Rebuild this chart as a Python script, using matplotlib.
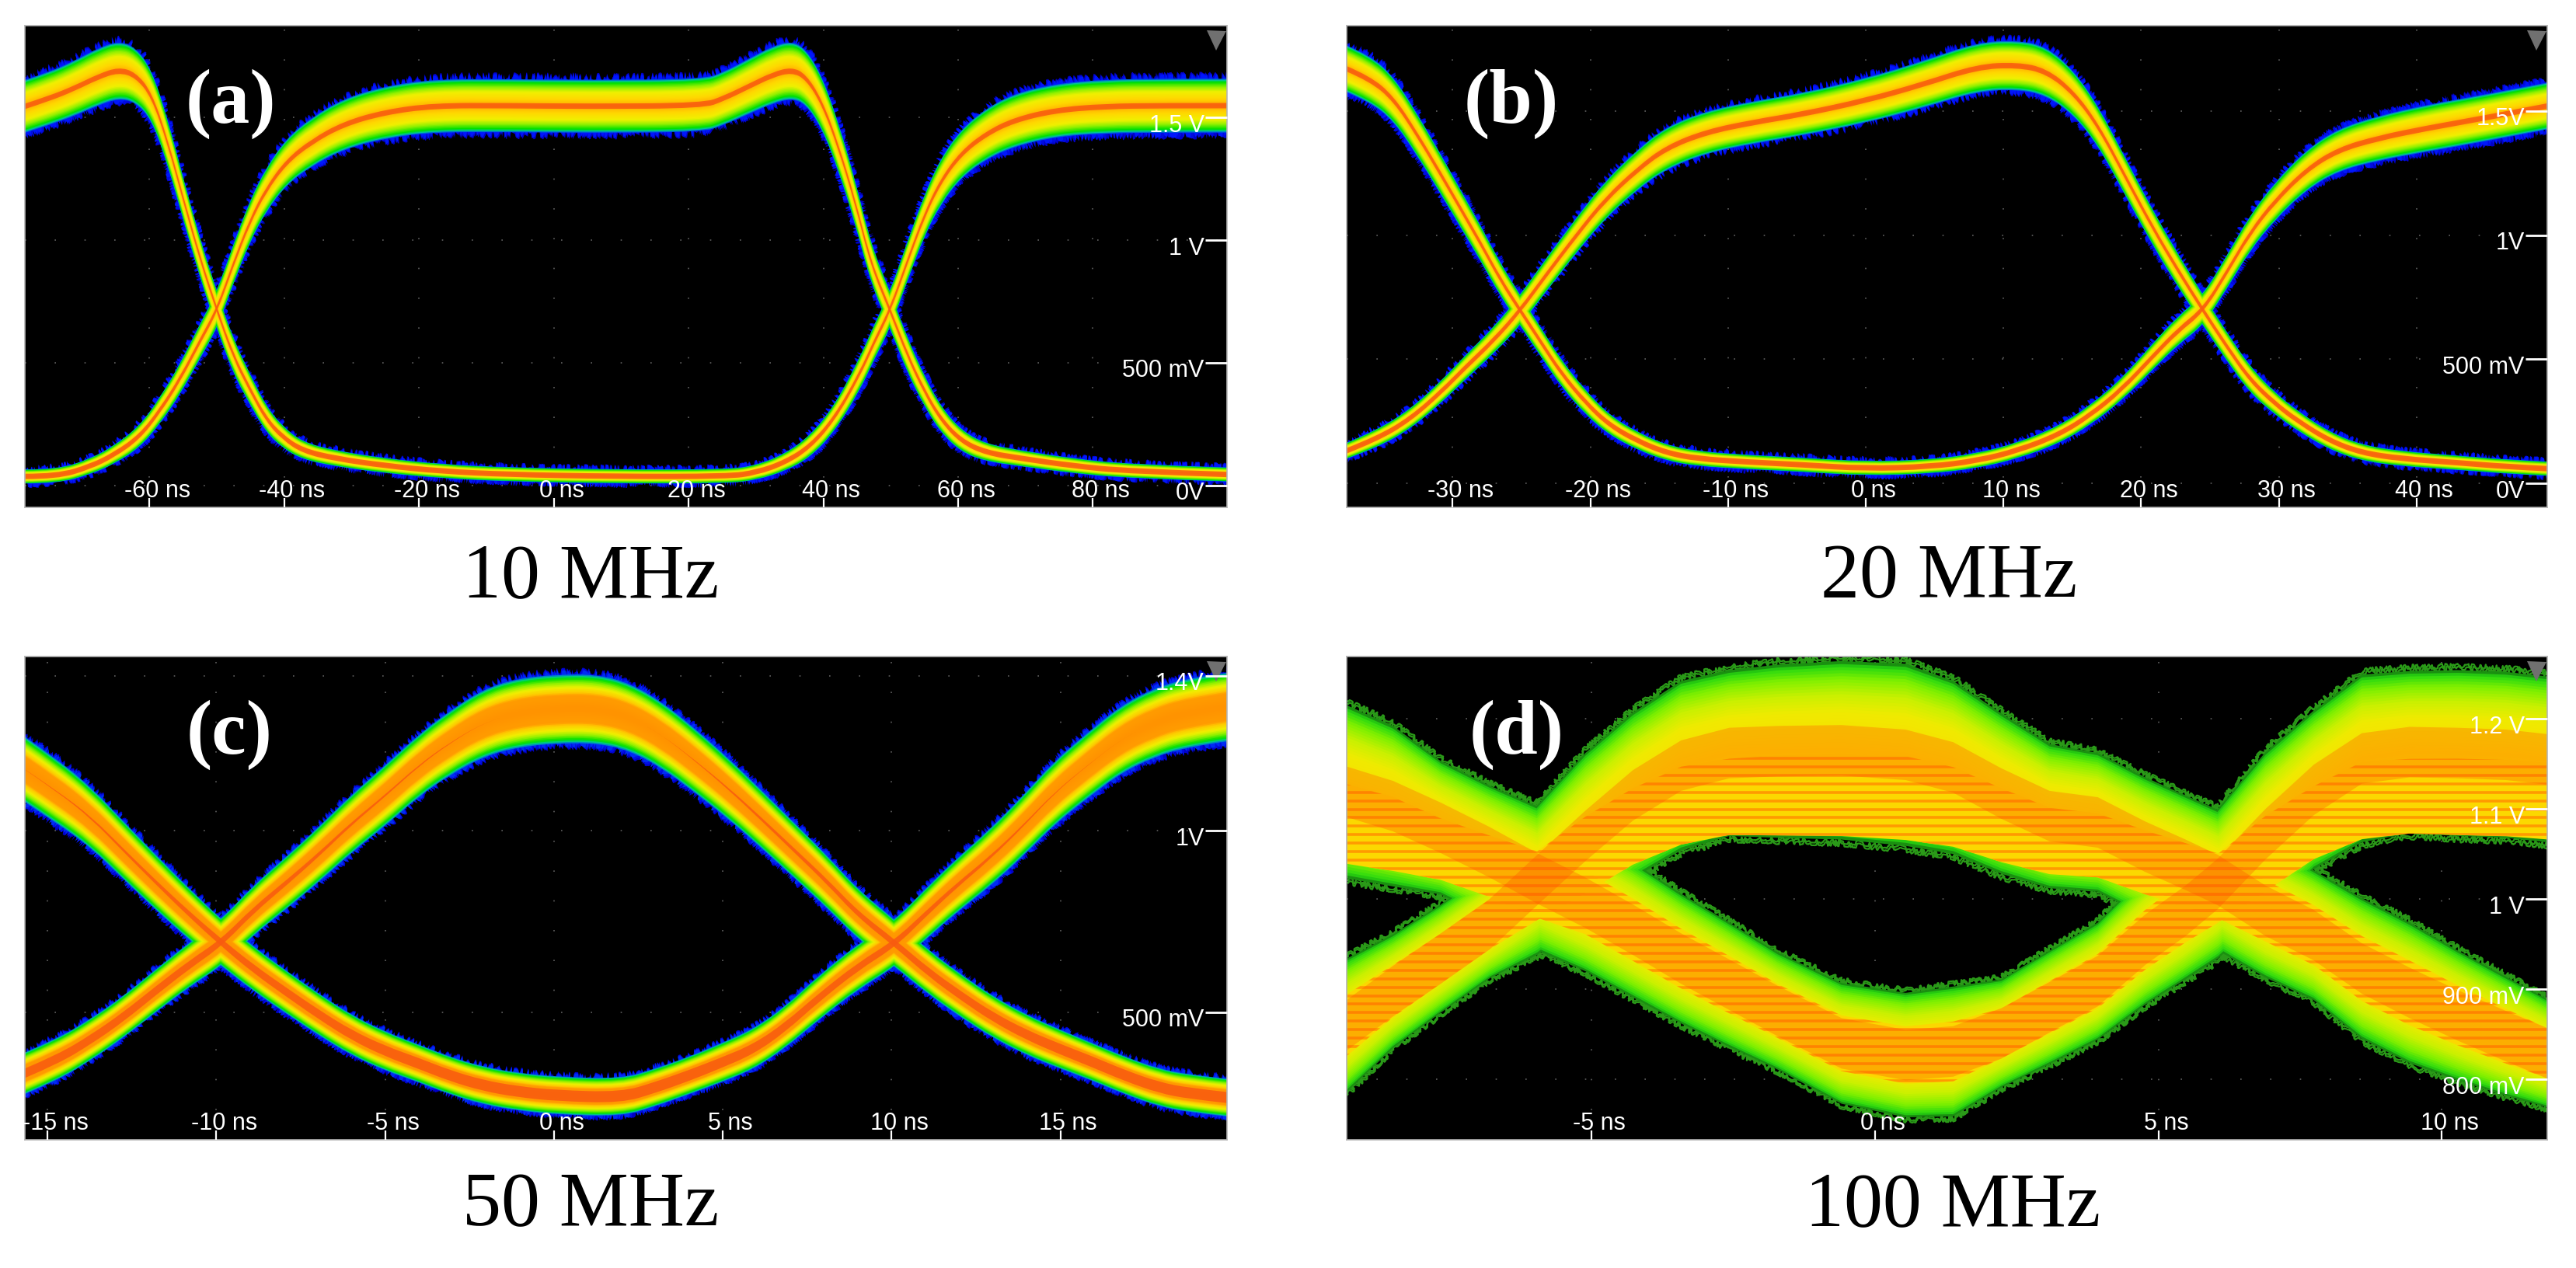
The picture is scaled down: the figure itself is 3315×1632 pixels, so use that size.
import numpy as np
import matplotlib
matplotlib.use("Agg")
import matplotlib.pyplot as plt
from matplotlib.colors import LinearSegmentedColormap
from matplotlib.patches import PathPatch
from matplotlib.path import Path
from matplotlib.transforms import ScaledTranslation

W, H = 3315, 1633
SANS = ["Liberation Sans", "DejaVu Sans"]
SERIF = ["Liberation Serif", "DejaVu Serif"]

# panel (a) 10 MHz
a_fall_t = [-78.5, -74.9, -71.2, -67.6, -64.6, -62.1, -59.7, -57.3, -54.9, -52.4, -50, -47.6, -45.1, -42.7, -40.3, -37.3, -32.4, -25.1, -16.6, -6.9, 8.9, 25.8, 30.1, 34.3, 38, 41.6, 45.3, 47.7, 49.9, 52.5, 55, 57.4, 60.4, 64.1, 68.3, 74.4, 81.7, 90.2, 99.9]
a_fall_v = [1.545, 1.577, 1.618, 1.666, 1.694, 1.674, 1.594, 1.40, 1.158, 0.916, 0.715, 0.529, 0.392, 0.271, 0.198, 0.142, 0.110, 0.081, 0.058, 0.045, 0.037, 0.037, 0.053, 0.094, 0.158, 0.271, 0.448, 0.594, 0.715, 0.916, 1.102, 1.239, 1.352, 1.432, 1.489, 1.529, 1.545, 1.548, 1.548]
a_fall_s = [.12, .12, .125, .13, .13, .125, .115, .105, .095, .09, .085, .08, .07, .06, .05, .04, .036, .034, .032, .032, .032, .032, .034, .04, .05, .06, .075, .08, .085, .09, .095, .105, .11, .115, .12, .12, .122, .122, .122]
a_rise_t = [-78.5, -73.7, -68.8, -65.2, -61.5, -58.5, -55.5, -52.4, -50, -47.6, -45.1, -42.7, -39.7, -36, -31.2, -25.1, -17.8, -6.9, 5.2, 22.2, 25.2, 28.9, 32.5, 35.3, 37.4, 39.8, 42.2, 44.7, 47.1, 49.9, 52.5, 55, 57.4, 60.4, 64.1, 69.5, 76.8, 85.3, 99.9]
a_rise_v = [.037, .037, .077, .126, .198, .303, .432, .594, .715, .9, 1.077, 1.206, 1.319, 1.4, 1.473, 1.521, 1.548, 1.548, 1.545, 1.548, 1.577, 1.626, 1.674, 1.694, 1.666, 1.561, 1.384, 1.158, .9, .715, .529, .384, .271, .182, .134, .11, .081, .058, .045]
a_rise_s = [.032, .032, .036, .042, .05, .06, .07, .08, .085, .09, .095, .1, .105, .11, .115, .118, .12, .12, .12, .12, .12, .125, .13, .13, .125, .12, .11, .1, .09, .085, .08, .07, .06, .05, .04, .036, .034, .032, .032]
a_xticks = [-60, -40, -20, 0, 20, 40, 60, 80]
a_xlabels = ["-60 ns", "-40 ns", "-20 ns", "0 ns", "20 ns", "40 ns", "60 ns", "80 ns"]
a_yticks = [0, 0.5, 1, 1.5]
a_ylabels = ["0V", "500 mV", "1 V", "1.5 V"]

# panel (b) 20 MHz
b_fall_t = [-37.7, -36, -34.3, -32.6, -30.8, -29.4, -27.9, -26.5, -25.1, -23.5, -22.1, -20.3, -18.6, -16.6, -14.5, -12.2, -8.7, -4.7, 0, 4.7, 8.1, 11, 14, 16.3, 18.6, 20.9, 22.7, 24.5, 26.2, 27.9, 29.7, 32, 34.3, 37.2, 40.7, 44.8, 49.5]
b_fall_v = [1.67, 1.63, 1.55, 1.407, 1.239, 1.104, .96, .817, .697, .561, .442, .322, .234, .171, .123, .099, .086, .075, .059, .067, .091, .131, .195, .274, .378, .514, .617, .697, .848, 1.008, 1.136, 1.263, 1.343, 1.39, 1.43, 1.47, 1.52]
b_fall_s = [.105, .105, .1, .095, .09, .085, .08, .075, .07, .065, .06, .055, .045, .04, .036, .034, .032, .032, .032, .032, .034, .036, .04, .045, .05, .06, .065, .07, .075, .08, .085, .09, .095, .1, .105, .105, .105]
b_rise_t = [-37.7, -35.5, -33.1, -30.8, -29.1, -27, -25.1, -23.3, -20.9, -18.9, -16.6, -14.5, -11.6, -8.1, -4.7, 0, 4.1, 8.1, 11, 13.1, 15.1, 16.9, 18.9, 20.9, 22.7, 24.5, 26.2, 27.9, 29.7, 31.4, 33.7, 36, 38.9, 43, 46.5, 49.5]
b_rise_v = [.131, .179, .258, .37, .466, .577, .697, .833, 1.008, 1.144, 1.263, 1.351, 1.415, 1.455, 1.486, 1.542, 1.606, 1.678, 1.686, 1.662, 1.574, 1.439, 1.231, 1.024, .856, .697, .553, .418, .322, .25, .171, .123, .099, .083, .067, .059]
b_rise_s = [.036, .04, .045, .05, .055, .06, .07, .075, .08, .085, .09, .095, .095, .095, .095, .1, .105, .11, .11, .11, .1, .09, .085, .08, .075, .07, .065, .06, .05, .045, .04, .036, .034, .032, .032, .032]
b_xticks = [-30, -20, -10, 0, 10, 20, 30, 40]
b_xlabels = ["-30 ns", "-20 ns", "-10 ns", "0 ns", "10 ns", "20 ns", "30 ns", "40 ns"]
b_yticks = [0, 0.5, 1, 1.5]
b_ylabels = ["0V", "500 mV", "1V", "1.5V"]

# panel (c) 50 MHz
c_rise_t = [-15.67, -14.7, -13.7, -12.76, -11.8, -10.8, -9.85, -8.9, -7.9, -6.95, -6, -5, -4, -3.1, -2.1, -1.1, .07, 1.3, 2.25, 3.2, 4.2, 5.2, 6.1, 7.1, 8.1, 9, 10.1, 11.1, 12.1, 13, 14, 15, 15.9, 16.9, 17.9, 18.8, 19.93]
c_rise_v = [.342, .379, .433, .492, .562, .632, .691, .778, .853, .928, 1.009, 1.084, 1.165, 1.224, 1.278, 1.305, 1.316, 1.316, 1.294, 1.246, 1.176, 1.1, 1.025, .939, .853, .767, .689, .611, .546, .492, .444, .406, .374, .336, .304, .288, .277]
c_rise_s = [.062, .062, .062, .062, .064, .066, .07, .074, .078, .082, .086, .09, .092, .095, .1, .102, .102, .102, .1, .098, .095, .09, .086, .082, .078, .074, .07, .066, .064, .062, .06, .058, .056, .056, .056, .056, .056]
c_fall_t = [-15.67, -14.7, -13.7, -12.76, -11.8, -10.8, -9.85, -8.9, -7.9, -6.95, -6, -5, -4, -3.1, -2.1, -1.1, .07, 2, 3, 4, 4.9, 5.9, 6.85, 7.8, 9, 10.1, 11, 11.9, 12.9, 13.9, 14.8, 15.8, 16.8, 17.75, 18.7, 19.93]
c_fall_v = [1.154, 1.095, 1.025, .939, .853, .767, .691, .621, .557, .498, .444, .401, .368, .336, .309, .293, .282, .277, .304, .336, .368, .406, .465, .541, .627, .689, .767, .842, .917, 1.004, 1.09, 1.165, 1.235, 1.278, 1.305, 1.321]
c_fall_s = [.097, .095, .09, .086, .082, .076, .07, .066, .064, .062, .06, .058, .056, .056, .056, .056, .056, .056, .056, .056, .058, .06, .062, .066, .068, .07, .076, .08, .085, .09, .094, .097, .1, .102, .102, .102]
c_xticks = [-15, -10, -5, 0, 5, 10, 15]
c_xlabels = ["-15 ns", "-10 ns", "-5 ns", "0 ns", "5 ns", "10 ns", "15 ns"]
c_yticks = [0.505, 0.99, 1.405]
c_ylabels = ["500 mV", "1V", "1.4V"]

# panel (d) 100 MHz
d_rise_t = [-9.32, -8.5, -7.66, -6.8, -5.96, -5.11, -4.27, -3.42, -2.57, -1.72, -.59, .54, 1.38, 2.23, 3.08, 3.93, 4.77, 5.48, 6.05, 6.89, 7.74, 8.59, 9.43, 10.28, 11.13, 11.86]
d_rise_v = [.86, .898, .934, .972, 1.021, 1.07, 1.115, 1.148, 1.162, 1.164, 1.165, 1.16, 1.146, 1.117, 1.092, 1.085, 1.058, 1.038, 1.021, .987, .96, .923, .896, .871, .848, .829]
d_rise_s = [.074, .063, .06, .06, .083, .092, .092, .094, .092, .096, .099, .101, .096, .089, .08, .077, .077, .077, .078, .074, .072, .078, .078, .072, .066, .06]
d_fall_t = [-9.32, -8.5, -7.66, -6.8, -5.96, -5.11, -4.27, -3.42, -2.57, -1.72, -.59, .54, 1.38, 2.23, 3.08, 3.93, 4.77, 5.48, 6.05, 6.89, 7.74, 8.59, 9.43, 10.28, 11.13, 11.86]
d_fall_v = [1.119, 1.103, 1.079, 1.052, 1.023, .996, .966, .934, .905, .876, .84, .827, .831, .851, .88, .909, .955, .987, 1.017, 1.072, 1.121, 1.156, 1.163, 1.162, 1.16, 1.155]
d_fall_s = [.096, .089, .074, .074, .08, .076, .075, .072, .069, .065, .067, .069, .072, .06, .063, .065, .072, .076, .083, .091, .088, .093, .09, .092, .092, .092]
d_xticks = [-5, 0, 5, 10]
d_xlabels = ["-5 ns", "0 ns", "5 ns", "10 ns"]
d_yticks = [0.8, 0.9, 1.0, 1.1, 1.2]
d_ylabels = ["800 mV", "900 mV", "1 V", "1.1 V", "1.2 V"]

# colour from the band edge (0) to the band centre (1)
edge_stops = [(0, "#0000c8"), (.07, "#0018ff"), (.13, "#00c0a0"), (.2, "#00e000"), (.36, "#90f000"), (.52, "#f0f000"), (.74, "#ffd800"), (.92, "#ffb400"), (1, "#ff9000")]
wide_stops = [(0, "#0000c8"), (.06, "#0018ff"), (.12, "#00c8a0"), (.18, "#00e000"), (.3, "#90f000"), (.42, "#f0f000"), (.56, "#ffc800"), (.62, "#ff9c00"), (1, "#ff9200")]
noisy_stops = [(0, "#1a9010"), (.04, "#28d810"), (.18, "#80f000"), (.36, "#c8f000"), (.56, "#f0ea00"), (1, "#fcd800")]


def edge_path(xs, ys, first_code):
    # run of quadratic curves through the midpoints of the read points
    verts = [(xs[0], ys[0])]
    codes = [first_code]
    n = len(xs)
    for i in range(1, n - 1):
        end = (xs[n - 1], ys[n - 1]) if i == n - 2 else ((xs[i] + xs[i + 1]) / 2, (ys[i] + ys[i + 1]) / 2)
        verts += [(xs[i], ys[i]), end]
        codes += [Path.CURVE3, Path.CURVE3]
    return verts, codes


def draw_band(ax, t, v, hw, color, alpha=None, zorder=1, smooth=True):
    # polygon of the trace, hw is the half width in volts
    if smooth:
        v1, c1 = edge_path(t, v + hw, Path.MOVETO)
        v2, c2 = edge_path(t[::-1], (v - hw)[::-1], Path.LINETO)
    else:
        v1 = list(zip(t, v + hw))
        c1 = [Path.MOVETO] + [Path.LINETO] * (len(t) - 1)
        v2 = list(zip(t[::-1], (v - hw)[::-1]))
        c2 = [Path.LINETO] * len(t)
    path = Path(v1 + v2 + [v1[0]], c1 + c2 + [Path.CLOSEPOLY])
    patch = PathPatch(path, facecolor=color, edgecolor="none", lw=0, alpha=alpha, zorder=zorder)
    ax.add_patch(patch)
    return patch


def draw_eye(ax, traces, stops, jag=5, smooth=True):
    cmap = LinearSegmentedColormap.from_list("eye", stops)
    traces = [tuple(np.array(a, dtype=float) for a in tr) for tr in traces]
    for lev in np.linspace(0, 0.98, 30):
        for t, v, s in traces:
            poly = draw_band(ax, t, v, s * (1 - lev), cmap(lev), smooth=smooth)
            if lev < 0.1 and jag:
                poly.set_sketch_params(scale=jag, length=6, randomness=14)
    return traces


def draw_core(ax, traces, core_a, core_b, color="#f85a10", alpha=0.85, smooth=True):
    for t, v, s in traces:
        core = core_a + core_b * np.clip(0.098 - s, 0, None)
        draw_band(ax, t, v, core, color, alpha=alpha, zorder=1.5, smooth=smooth)


def style_panel(ax, xlim, ylim, xticks, xlabels, yticks, ylabels):
    ax.set_facecolor("black")
    ax.set_xlim(xlim)
    ax.set_ylim(ylim)
    ax.set_xticks(xticks, labels=xlabels)
    ax.yaxis.tick_right()
    ax.set_yticks(yticks, labels=ylabels)
    ax.set_axisbelow(False)
    ax.tick_params(axis="x", direction="in", length=9, width=1.6, color="white",
                   labelcolor="white", labelsize=22, pad=-5)
    ax.tick_params(axis="y", direction="in", length=20, width=2, color="white",
                   labelcolor="white", labelsize=22, pad=-21)
    dpi_tr = ax.figure.dpi_scale_trans
    for lab in ax.get_xticklabels():
        lab.set_family(SANS)
        lab.set_va("bottom")
        lab.set_transform(lab.get_transform() + ScaledTranslation(10 / 100, 0, dpi_tr))
    for lab in ax.get_yticklabels():
        lab.set_family(SANS)
        lab.set_ha("right")
        lab.set_transform(lab.get_transform() + ScaledTranslation(0, -6 / 100, dpi_tr))
    # faint scope graticule, under the traces
    dots = (0, (1, 22))
    ax.vlines(xticks, ylim[0], ylim[1], colors="#606060", lw=1.2, linestyles=[dots], zorder=0.5)
    ax.hlines(yticks, xlim[0], xlim[1], colors="#606060", lw=1.2, linestyles=[dots], zorder=0.5)
    for sp in ax.spines.values():
        sp.set_color("#b4b4b4")
        sp.set_linewidth(1.2)
    # trigger marker of the scope, top right corner
    ax.plot([0.991], [0.97], marker="v", ms=18, color="#707070", mew=0,
            transform=ax.transAxes, zorder=2.2)


fig = plt.figure(figsize=(W / 100, H / 100), dpi=100, facecolor="white")


def panel_axes(left, right, top, bottom):
    return fig.add_axes([left / W, 1 - bottom / H, (right - left) / W, (bottom - top) / H])


ax_a = panel_axes(32, 1579, 34, 654)
ax_b = panel_axes(1733, 3278, 34, 654)
ax_c = panel_axes(32, 1579, 846, 1468)
ax_d = panel_axes(1733, 3278, 846, 1468)

tr = draw_eye(ax_a, [(a_fall_t, a_fall_v, a_fall_s), (a_rise_t, a_rise_v, a_rise_s)], edge_stops)
draw_core(ax_a, tr, 0.011, 0)
style_panel(ax_a, (-78.5, 99.9), (-0.089, 1.874), a_xticks, a_xlabels, a_yticks, a_ylabels)

tr = draw_eye(ax_b, [(b_fall_t, b_fall_v, b_fall_s), (b_rise_t, b_rise_v, b_rise_s)], edge_stops)
draw_core(ax_b, tr, 0.011, 0)
style_panel(ax_b, (-37.7, 49.5), (-0.097, 1.844), b_xticks, b_xlabels, b_yticks, b_ylabels)

tr = draw_eye(ax_c, [(c_rise_t, c_rise_v, c_rise_s), (c_fall_t, c_fall_v, c_fall_s)], wide_stops, jag=4)
draw_core(ax_c, tr, 0, 0.35)
style_panel(ax_c, (-15.67, 19.93), (0.164, 1.456), c_xticks, c_xlabels, c_yticks, c_ylabels)

tr = draw_eye(ax_d, [(d_rise_t, d_rise_v, d_rise_s), (d_fall_t, d_fall_v, d_fall_s)], noisy_stops, jag=0, smooth=False)
for t, v, s in tr:
    # orange scan rows, they sit low in the upper part of the band
    shift = np.clip(v - 1, 0, None) * 0.3
    inner = draw_band(ax_d, t, v - shift, s * 0.46, "#fbd800", zorder=1.2, smooth=False)
    rows = ax_d.hlines(np.arange(0.733, 1.27, 0.0094), t[0], t[-1], colors="#ff9a00", lw=2.6, zorder=1.3)
    rows.set_clip_path(inner)
    # jagged outline of the outermost hits
    for k in (1.02, 1.05):
        for sign in (1, -1):
            line, = ax_d.plot(t, v + sign * s * k, color="#2a9a18", lw=1.6, zorder=0.9)
            line.set_sketch_params(scale=3, length=14, randomness=30)
draw_core(ax_d, tr, 0.028, 0, color="#ff5000", alpha=0.3, smooth=False)
style_panel(ax_d, (-9.32, 11.86), (0.733, 1.269), d_xticks, d_xlabels, d_yticks, d_ylabels)

for name, x, y in [("(a)", 297, 134), ("(b)", 1945, 134), ("(c)", 295, 946), ("(d)", 1952, 946)]:
    fig.text(x / W, 1 - y / H, name, color="white", fontsize=72, fontweight="bold",
             family=SERIF, ha="center", va="center", zorder=10)

for name, x, y in [("10 MHz", 760, 744), ("20 MHz", 2508, 744), ("50 MHz", 760, 1553), ("100 MHz", 2513, 1553)]:
    fig.text(x / W, 1 - y / H, name, color="black", fontsize=72, family=SERIF,
             ha="center", va="center")

fig.savefig("out.png", dpi=100, facecolor="white")
